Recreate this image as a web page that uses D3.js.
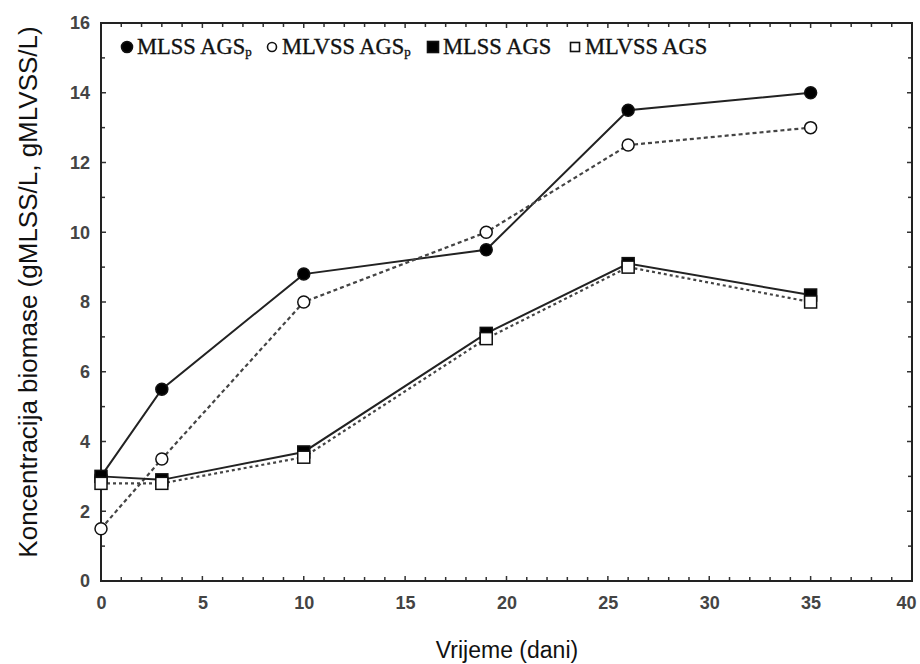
<!DOCTYPE html>
<html><head><meta charset="utf-8">
<script src="https://cdn.jsdelivr.net/npm/d3@7"></script>
<style>body{margin:0;background:#fff}svg{display:block}</style>
</head><body>
<svg id="c" width="920" height="664"></svg>
<script>
const days = [0, 3, 10, 19, 26, 35];
const mlssAGSp  = [3.0, 5.5, 8.8, 9.5, 13.5, 14.0];
const mlvssAGSp = [1.5, 3.5, 8.0, 10.0, 12.5, 13.0];
const mlssAGS   = [3.0, 2.9, 3.7, 7.1, 9.1, 8.2];
const mlvssAGS  = [2.8, 2.8, 3.55, 6.95, 9.0, 8.0];
const xTicks = [0, 5, 10, 15, 20, 25, 30, 35, 40];
const yTicks = [0, 2, 4, 6, 8, 10, 12, 14, 16];
const seriesNames = ["MLSS AGS", "MLVSS AGS", "MLSS AGS", "MLVSS AGS"];
const seriesSubs = ["P", "P", "", ""];

const svg = d3.select("#c");
const L = 101, R = 912, T = 23, B = 581;
const x = d3.scaleLinear().domain([0, 40]).range([L, R]);
const y = d3.scaleLinear().domain([0, 16]).range([B, T]);

const series = [
  {v: mlssAGSp, shape: "circle", fill: "#000", dash: null},
  {v: mlvssAGSp, shape: "circle", fill: "#fff", dash: "4,3"},
  {v: mlssAGS, shape: "square", fill: "#000", dash: null},
  {v: mlvssAGS, shape: "square", fill: "#fff", dash: "3,3"}
];

// minor ticks
const g = svg.append("g");
const tcol = "#333";
d3.range(0, 41, 1).forEach(t => {
  const len = t % 5 === 0 ? 5 : 4;
  g.append("line").attr("x1", x(t)).attr("x2", x(t)).attr("y1", B).attr("y2", B - len).attr("stroke", tcol).attr("stroke-width", 1.5);
  g.append("line").attr("x1", x(t)).attr("x2", x(t)).attr("y1", T).attr("y2", T + len).attr("stroke", tcol).attr("stroke-width", 1.5);
});
d3.range(0, 17, 1).forEach(t => {
  const len = t % 2 === 0 ? 5 : 4;
  g.append("line").attr("y1", y(t)).attr("y2", y(t)).attr("x1", L).attr("x2", L + len).attr("stroke", tcol).attr("stroke-width", 1.5);
  g.append("line").attr("y1", y(t)).attr("y2", y(t)).attr("x1", R).attr("x2", R - len).attr("stroke", tcol).attr("stroke-width", 1.5);
});

// frame
svg.append("rect").attr("x", L).attr("y", T).attr("width", R - L).attr("height", B - T)
  .attr("fill", "none").attr("stroke", "#222").attr("stroke-width", 2);

// axes labels via d3 axes
const xAxis = svg.append("g").attr("transform", `translate(0,${B})`)
  .call(d3.axisBottom(x).tickValues(xTicks).tickSize(0).tickPadding(15));
const yAxis = svg.append("g").attr("transform", `translate(${L},0)`)
  .call(d3.axisLeft(y).tickValues(yTicks).tickSize(0).tickPadding(11));
[xAxis, yAxis].forEach(a => {
  a.select(".domain").remove();
  a.selectAll("text").attr("font-family", "Liberation Sans, Arial, sans-serif")
    .attr("font-size", 18).attr("font-weight", "bold").attr("fill", "#444");
});
xAxis.selectAll(".tick").filter(d => d === 40).select("text").attr("dx", -6);

// lines
series.forEach(s => {
  const line = d3.line().x((d, i) => x(days[i])).y(d => y(d));
  svg.append("path").datum(s.v).attr("d", line).attr("fill", "none")
    .attr("stroke", s.dash ? "#444" : "#222").attr("stroke-width", s.dash ? 2.2 : 2)
    .attr("stroke-dasharray", s.dash);
});
// markers
function marker(sel, shape, fill, cx, cy) {
  if (shape === "circle") {
    sel.append("circle").attr("cx", cx).attr("cy", cy).attr("r", 6)
      .attr("fill", fill).attr("stroke", "#111").attr("stroke-width", 1.5);
  } else {
    sel.append("rect").attr("x", cx - 6).attr("y", cy - 6).attr("width", 12).attr("height", 12)
      .attr("fill", fill).attr("stroke", "#111").attr("stroke-width", 1.5);
  }
}
series.forEach(s => {
  s.v.forEach((d, i) => marker(svg, s.shape, s.fill, x(days[i]), y(d)));
});

// legend
const legX = [127, 272, 433, 575];
const lg = svg.append("g");
series.forEach((s, i) => {
  const cy = 47;
  if (s.shape === "circle") {
    lg.append("circle").attr("cx", legX[i]).attr("cy", cy).attr("r", s.fill === "#000" ? 5.5 : 4.5)
      .attr("fill", s.fill).attr("stroke", "#111").attr("stroke-width", 1.6);
  } else {
    const h = s.fill === "#000" ? 11 : 9;
    lg.append("rect").attr("x", legX[i] - h / 2).attr("y", cy - h / 2).attr("width", h).attr("height", h)
      .attr("fill", s.fill).attr("stroke", "#111").attr("stroke-width", 1.6);
  }
  const t = lg.append("text").attr("x", legX[i] + 10).attr("y", cy + 7)
    .attr("font-family", "Liberation Serif, Times New Roman, serif").attr("font-size", 22.5)
    .attr("fill", "#111").attr("stroke", "#111").attr("stroke-width", 0.35).text(seriesNames[i]);
  if (seriesSubs[i]) t.append("tspan").attr("font-size", 13).attr("dy", 2).text(seriesSubs[i].toLowerCase());
});

// titles
svg.append("text").attr("x", 507).attr("y", 658).attr("text-anchor", "middle")
  .attr("font-family", "Liberation Sans, Arial, sans-serif").attr("font-size", 23).attr("fill", "#111")
  .text("Vrijeme (dani)");
svg.append("text").attr("transform", "translate(37,292) rotate(-90)").attr("text-anchor", "middle")
  .attr("font-family", "Liberation Sans, Arial, sans-serif").attr("font-size", 26).attr("fill", "#111")
  .text("Koncentracija biomase (gMLSS/L, gMLVSS/L)");
</script>
</body></html>
